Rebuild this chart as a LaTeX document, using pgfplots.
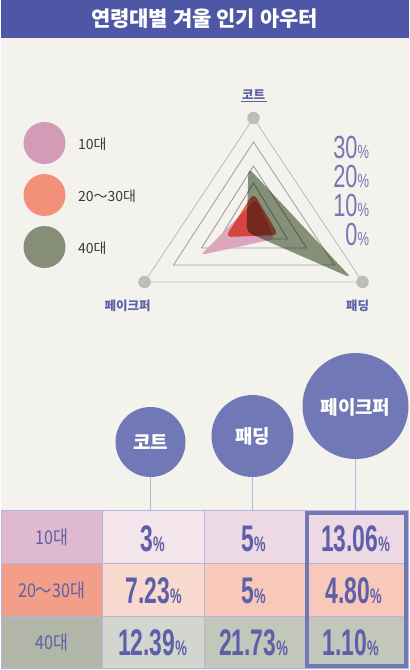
\documentclass[border=0pt]{standalone}
\usepackage{fontspec}
\setmainfont{Noto Sans CJK KR}
\newfontfamily\numf{Liberation Sans}
\usepackage{graphicx}
\usepackage{pgfplots}
\pgfplotsset{compat=1.18}

\definecolor{bg}{HTML}{F3F2EC}
\definecolor{banner}{HTML}{4D57A5}
\definecolor{bub}{HTML}{7178B6}
\definecolor{txtp}{HTML}{5C60A8}
\definecolor{gridc}{HTML}{B7B4D9}
\definecolor{dot}{HTML}{BDBDBD}
\definecolor{pinkL}{HTML}{D49BB7}
\definecolor{salL}{HTML}{F2907A}
\definecolor{grnL}{HTML}{868E78}
\definecolor{pinkS}{HTML}{DCA6BF}
\definecolor{redS}{HTML}{F56A54}
\definecolor{grnS}{HTML}{8C9883}

% big condensed numbers
\newcommand\valp[1]{\scalebox{0.62}[1]{\numf\bfseries\fontsize{37bp}{37bp}\selectfont #1\fontsize{21bp}{21bp}\selectfont\%}}
\newcommand\scl[1]{\scalebox{0.68}[1]{\numf\fontsize{32bp}{32bp}\selectfont #1\fontsize{19bp}{19bp}\selectfont\%}}
\newcommand\rowh[1]{\scalebox{0.85}[1]{\fontsize{19bp}{19bp}\selectfont #1}}

\begin{document}
\begin{tikzpicture}
\begin{axis}[
    width=408bp, height=670bp, scale only axis,
    xmin=0, xmax=408, ymin=0, ymax=670,
    y dir=reverse, hide axis, clip=false
]
% background and header
\fill[bg] (0,0) rectangle (408,670);
\fill[banner] (0,0) rectangle (408,38);
\node[white, font=\bfseries\fontsize{21bp}{21bp}\selectfont] at (204,18.5) {연령대별 겨울 인기 아우터};

% legend
\fill[pinkL] (44,143) circle[radius=21bp];
\fill[salL] (44,195) circle[radius=21bp];
\fill[grnL] (44,247) circle[radius=21bp];
\node[anchor=west, text=black!78, font=\fontsize{14bp}{14bp}\selectfont] at (74,144) {10대};
\node[anchor=west, text=black!78, font=\fontsize{14bp}{14bp}\selectfont] at (74,196) {20～30대};
\node[anchor=west, text=black!78, font=\fontsize{14bp}{14bp}\selectfont] at (74,248) {40대};

% radar grid
\addplot[color=black!25, line width=0.9bp] coordinates {(253,118) (144,282) (362,282)} -- cycle;
\addplot[color=black!35, line width=0.9bp] coordinates {(253,142) (173,265) (334,265)} -- cycle;
\addplot[color=black!38, line width=0.9bp] coordinates {(253,166) (201,248) (306,248)} -- cycle;
\addplot[color=black!40, line width=0.9bp] coordinates {(253,183) (219,239) (287,239)} -- cycle;
\addplot[only marks, mark=*, mark size=6bp, color=dot] coordinates {(253,118) (144,282) (362,282)};

% series shapes
\addplot[fill=pinkS, draw=none, rounded corners=4bp] coordinates {(200,255) (256,199) (274,239)} -- cycle;
\addplot[fill=redS, draw=none, rounded corners=6bp, blend mode=multiply] coordinates {(253,193) (278,235) (225,237)} -- cycle;
\addplot[fill=grnS, draw=none, rounded corners=6bp, blend mode=multiply] coordinates {(248,168) (351,278) (246,232)} -- cycle;

% radar labels
\node[txtp, font=\bfseries\fontsize{12.5bp}{12.5bp}\selectfont] at (253,95) {코트};
\draw[txtp, line width=0.8bp] (240,101.5) -- (266,101.5);
\node[txtp, font=\bfseries\fontsize{12.5bp}{12.5bp}\selectfont] at (127,306) {페이크퍼};
\node[txtp, font=\bfseries\fontsize{12.5bp}{12.5bp}\selectfont] at (357,306) {패딩};

% scale labels
\node[anchor=east, text=txtp!85] at (372,147) {\scl{30}};
\node[anchor=east, text=txtp!85] at (372,176) {\scl{20}};
\node[anchor=east, text=txtp!85] at (372,205) {\scl{10}};
\node[anchor=east, text=txtp!85] at (372,234) {\scl{0}};

% header bubbles
\draw[gridc, line width=1bp] (150,470) -- (150,511);
\draw[gridc, line width=1bp] (252,470) -- (252,511);
\draw[gridc, line width=1bp] (355,450) -- (355,511);
\fill[bub] (150,442) circle[radius=35bp];
\fill[bub] (252,436) circle[radius=41bp];
\fill[bub] (355,406) circle[radius=53bp];
\node[white, font=\bfseries\fontsize{19bp}{19bp}\selectfont] at (150,442) {코트};
\node[white, font=\bfseries\fontsize{19bp}{19bp}\selectfont] at (252,436) {패딩};
\node[white, font=\bfseries\fontsize{19bp}{19bp}\selectfont] at (355,407) {페이크퍼};

% table cells
\fill[fill={rgb,255:red,223;green,186;blue,206}] (0,510) rectangle (102,563);
\fill[fill={rgb,255:red,244;green,228;blue,236}] (102,510) rectangle (204,563);
\fill[fill={rgb,255:red,237;green,217;blue,227}] (204,510) rectangle (408,563);
\fill[fill={rgb,255:red,242;green,158;blue,137}] (0,563) rectangle (102,616);
\fill[fill={rgb,255:red,250;green,217;blue,206}] (102,563) rectangle (204,616);
\fill[fill={rgb,255:red,248;green,201;blue,186}] (204,563) rectangle (408,616);
\fill[fill={rgb,255:red,178;green,182;blue,168}] (0,616) rectangle (102,668);
\fill[fill={rgb,255:red,211;green,214;blue,207}] (102,616) rectangle (204,668);
\fill[fill={rgb,255:red,194;green,198;blue,187}] (204,616) rectangle (408,668);
\draw[gridc, line width=1bp] (0.5,510.5) rectangle (407.5,668);
\draw[gridc, line width=1bp] (0,563) -- (408,563) (0,616) -- (408,616);
\draw[gridc, line width=1bp] (102,510) -- (102,668) (204,510) -- (204,668) (305,510) -- (305,668);
\draw[bub, line width=4bp] (306,512.5) rectangle (405.5,666);

% table text
\node[txtp] at (51,537) {\rowh{10대}};
\node[txtp] at (51,590) {\rowh{20～30대}};
\node[txtp] at (51,642) {\rowh{40대}};
\node[txtp] at (152,539) {\valp{3}};
\node[txtp] at (253,539) {\valp{5}};
\node[txtp] at (355,539) {\valp{13.06}};
\node[txtp] at (153,591) {\valp{7.23}};
\node[txtp] at (253,591) {\valp{5}};
\node[txtp] at (353,591) {\valp{4.80}};
\node[txtp] at (152,643) {\valp{12.39}};
\node[txtp] at (253,643) {\valp{21.73}};
\node[txtp] at (350,643) {\valp{1.10}};
\end{axis}
\end{tikzpicture}
\end{document}
